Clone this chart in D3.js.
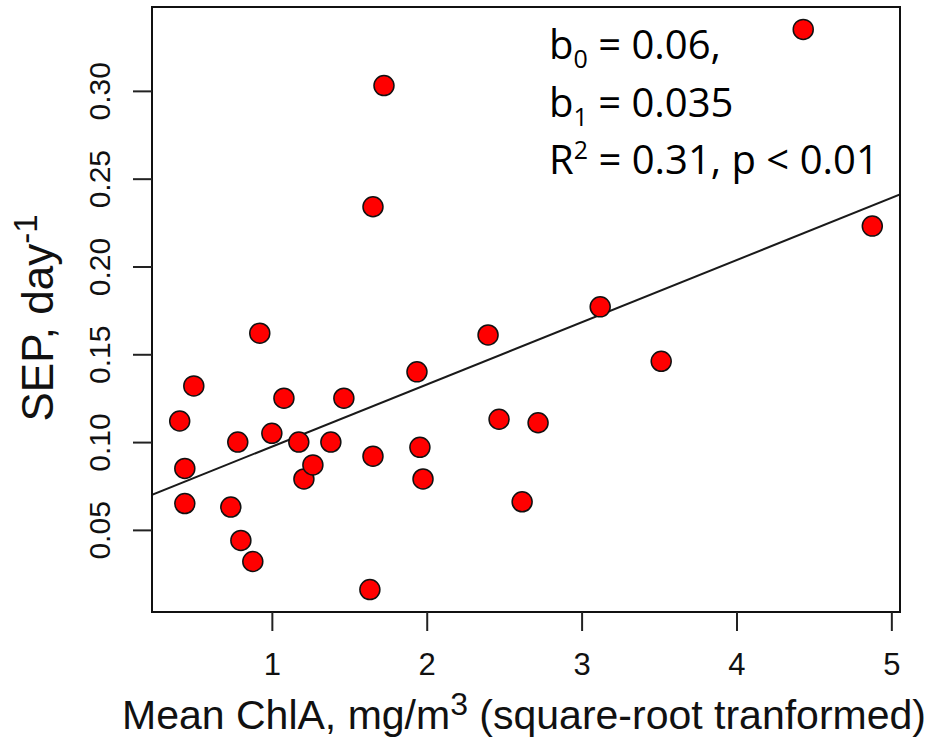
<!DOCTYPE html>
<html>
<head>
<meta charset="utf-8">
<script src="https://cdn.jsdelivr.net/npm/d3@7"></script>
<style>
  html, body { margin: 0; padding: 0; background: #fff; }
  svg { display: block; }
</style>
</head>
<body>
<svg id="chart" width="933" height="743"></svg>
<script>
// ---- data ----
const chlA = [0.405, 0.496, 0.438, 0.438, 0.735, 0.780, 0.800, 0.877, 0.922, 1.078,
              1.000, 1.174, 1.207, 1.265, 1.381, 1.465, 1.653, 1.633, 1.653, 1.724,
              1.937, 1.956, 1.976, 2.396, 2.467, 2.616, 2.719, 3.120, 3.514, 4.431, 4.877];
const sep  = [0.112, 0.132, 0.085, 0.065, 0.063, 0.100, 0.044, 0.032, 0.162, 0.125,
              0.105, 0.100, 0.079, 0.087, 0.100, 0.125, 0.092, 0.016, 0.234, 0.303,
              0.140, 0.097, 0.079, 0.161, 0.113, 0.066, 0.111, 0.177, 0.146, 0.335, 0.223];
const xTicks = [1, 2, 3, 4, 5];
const yTicks = [0.05, 0.10, 0.15, 0.20, 0.25, 0.30];
const intercept = 0.062;
const slope = 0.0354;
const statLines = [
  {main: "b", sub: "0", rest: " = 0.06,"},
  {main: "b", sub: "1", rest: " = 0.035"},
  {main: "R", sup: "2", rest: " = 0.31, p < 0.01"}
];

(function () {
const svg = d3.select("#chart");
const pL = 152, pR = 900, pT = 7, pB = 612;

function padExt(arr) {
  const [a, b] = d3.extent(arr);
  const p = (b - a) * 0.04;
  return [a - p, b + p];
}
const x = d3.scaleLinear().domain(padExt(chlA)).range([pL, pR]);
const y = d3.scaleLinear().domain(padExt(sep)).range([pB, pT]);

const axisFont = "'Liberation Sans', Arial, Helvetica, sans-serif";

svg.append("defs").append("clipPath").attr("id", "clip")
  .append("rect").attr("x", pL).attr("y", pT).attr("width", pR - pL).attr("height", pB - pT);

const xd = x.domain();
svg.append("line")
  .attr("clip-path", "url(#clip)")
  .attr("x1", x(xd[0])).attr("y1", y(intercept + slope * xd[0]))
  .attr("x2", x(xd[1])).attr("y2", y(intercept + slope * xd[1]))
  .attr("stroke", "#1a1a1a").attr("stroke-width", 2);

svg.append("g").selectAll("circle")
  .data(chlA.map((v, i) => [v, sep[i]]))
  .join("circle")
  .attr("cx", d => x(d[0]))
  .attr("cy", d => y(d[1]))
  .attr("r", 10)
  .attr("fill", "#ff0000")
  .attr("stroke", "#111")
  .attr("stroke-width", 1.5);

svg.append("rect")
  .attr("x", pL).attr("y", pT).attr("width", pR - pL).attr("height", pB - pT)
  .attr("fill", "none").attr("stroke", "#111").attr("stroke-width", 2);

const gx = svg.append("g").attr("transform", `translate(0,${pB})`)
  .call(d3.axisBottom(x).tickValues(xTicks).tickSize(19).tickPadding(0).tickFormat(d3.format("d")));
gx.select(".domain").remove();
gx.selectAll(".tick line").attr("stroke", "#222").attr("stroke-width", 2);
gx.selectAll(".tick text")
  .attr("y", 63).attr("dy", 0)
  .attr("font-family", axisFont).attr("font-size", 31).attr("fill", "#111");

const gy = svg.append("g").attr("transform", `translate(${pL},0)`)
  .call(d3.axisLeft(y).tickValues(yTicks).tickSize(19).tickFormat(d3.format(".2f")));
gy.select(".domain").remove();
gy.selectAll(".tick line").attr("stroke", "#222").attr("stroke-width", 2);
gy.selectAll(".tick text")
  .attr("x", 0).attr("y", 0).attr("dy", 0)
  .attr("text-anchor", "middle")
  .attr("transform", "translate(-42,0) rotate(-90)")
  .attr("font-family", axisFont).attr("font-size", 30).attr("fill", "#111");

const yt = svg.append("text")
  .attr("transform", `translate(53,318) rotate(-90)`)
  .attr("text-anchor", "middle")
  .attr("font-family", axisFont).attr("font-size", 44).attr("fill", "#111");
yt.append("tspan").text("SEP, day");
yt.append("tspan").attr("font-size", 33).attr("dy", -16).text("-1");

const xt = svg.append("text")
  .attr("x", 524).attr("y", 729)
  .attr("text-anchor", "middle")
  .attr("font-family", axisFont).attr("font-size", 41).attr("fill", "#111");
xt.append("tspan").text("Mean ChlA, mg/m");
xt.append("tspan").attr("font-size", 32).attr("dy", -14).text("3");
xt.append("tspan").attr("dy", 14).text(" (square-root tranformed)");

const annFont = "'Open Sans', 'Noto Sans', sans-serif";
const ann = svg.append("g");
statLines.forEach((l, i) => {
  const t = ann.append("text")
    .attr("x", 549).attr("y", 59 + i * 57.5)
    .attr("font-family", annFont).attr("font-size", 40).attr("fill", "#000");
  t.append("tspan").text(l.main);
  if (l.sub) {
    t.append("tspan").attr("font-size", 25).attr("dy", 9).text(l.sub);
    t.append("tspan").attr("dy", -9).text(l.rest);
  } else {
    t.append("tspan").attr("font-size", 25).attr("dy", -15).text(l.sup);
    t.append("tspan").attr("dy", 15).text(l.rest);
  }
});
})();
</script>
</body>
</html>
